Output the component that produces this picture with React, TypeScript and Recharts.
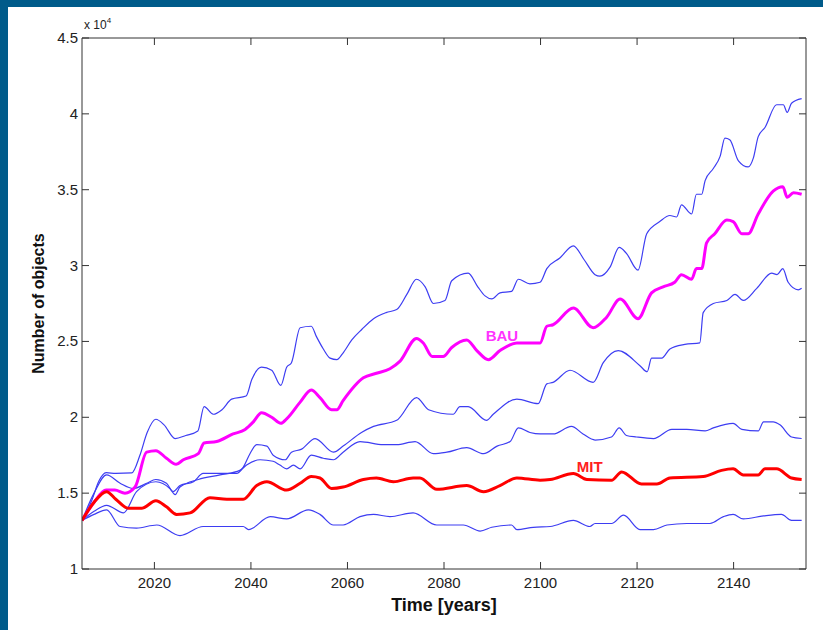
import React from 'react';
import { LineChart, Line, XAxis, YAxis, ReferenceDot, Label } from 'recharts';

type Pt = [number, number];

// values in units of 10^4 objects
const upperRun: Pt[] = [
  [2005, 1.32], [2007, 1.45], [2008.5, 1.58], [2010, 1.635], [2012, 1.63], [2015.3, 1.633],
  [2017, 1.75], [2018.5, 1.9], [2020.3, 1.987], [2022, 1.95], [2024.3, 1.86], [2026.5, 1.88],
  [2029, 1.91], [2030.3, 2.07], [2032.2, 2.02], [2034, 2.05], [2036, 2.12], [2039, 2.14],
  [2040.2, 2.25], [2042.2, 2.33], [2044.3, 2.31], [2046.2, 2.21], [2047.4, 2.33], [2048.4, 2.36],
  [2050.2, 2.59], [2052.5, 2.6], [2053.6, 2.53], [2055, 2.45], [2056.4, 2.39], [2057.8, 2.38],
  [2059, 2.42], [2060.9, 2.51], [2063, 2.58], [2065.4, 2.65], [2068, 2.69], [2070.2, 2.71],
  [2072.3, 2.81], [2074.3, 2.91], [2076.1, 2.86], [2077.8, 2.75], [2080.2, 2.77], [2081.6, 2.9],
  [2085, 2.95], [2087, 2.86], [2088.5, 2.8], [2089.9, 2.78], [2091.6, 2.82], [2094, 2.83],
  [2095.4, 2.91], [2097.8, 2.88], [2099.9, 2.89], [2101.3, 2.98], [2104, 3.05], [2106.8, 3.13],
  [2109, 3.04], [2111.3, 2.94], [2112.3, 2.93], [2114.4, 2.99], [2116.3, 3.12], [2117.8, 3.08],
  [2120.2, 2.97], [2122, 3.21], [2124.7, 3.29], [2126.8, 3.33], [2128.2, 3.32], [2129.2, 3.4],
  [2131.3, 3.34], [2132.3, 3.47], [2133.4, 3.47], [2134.1, 3.56], [2135.8, 3.64], [2137.2, 3.72],
  [2138.2, 3.84], [2139.2, 3.83], [2141, 3.69], [2143, 3.65], [2144.1, 3.71], [2145.1, 3.85],
  [2146.5, 3.91], [2148.9, 4.06], [2150.3, 4.06], [2151.1, 4.01], [2152, 4.07], [2154.1, 4.1],
];

const bau: Pt[] = [
  [2005, 1.32], [2007.5, 1.44], [2010, 1.52], [2011.8, 1.52], [2013.9, 1.5], [2016, 1.54],
  [2018.4, 1.77], [2020.3, 1.78], [2022.5, 1.73], [2024.5, 1.69], [2026, 1.72], [2029.1, 1.76],
  [2030.3, 1.83], [2032.9, 1.84], [2036.3, 1.89], [2038.8, 1.92], [2040.5, 1.97], [2042.2, 2.03],
  [2044.3, 2.0], [2046.2, 1.96], [2047.4, 1.99], [2050.2, 2.1], [2052.5, 2.18], [2054.3, 2.13],
  [2056.7, 2.05], [2057.8, 2.05], [2059.1, 2.11], [2063.3, 2.26], [2066, 2.29], [2068.8, 2.32],
  [2070.9, 2.37], [2074.3, 2.52], [2075.7, 2.49], [2077.6, 2.4], [2079.8, 2.4], [2081.6, 2.46],
  [2084.7, 2.51], [2086.8, 2.44], [2089.2, 2.38], [2091.6, 2.44], [2095.1, 2.49], [2097.8, 2.49],
  [2099.9, 2.49], [2101.3, 2.6], [2102.6, 2.61], [2106.8, 2.72], [2110.9, 2.59], [2113.7, 2.66],
  [2116.5, 2.78], [2120.2, 2.65], [2123, 2.82], [2125.4, 2.86], [2127.8, 2.89], [2129.2, 2.94],
  [2131.3, 2.91], [2132.3, 2.98], [2133.4, 2.98], [2134.4, 3.15], [2136.1, 3.21], [2138.6, 3.3],
  [2139.9, 3.29], [2141.7, 3.21], [2143, 3.21], [2145.1, 3.34], [2148.2, 3.49], [2150.2, 3.52],
  [2151.1, 3.45], [2152.4, 3.48], [2154.1, 3.47],
];

const midUpperRun: Pt[] = [
  [2005, 1.32], [2007.5, 1.5], [2010.1, 1.62], [2012.9, 1.565], [2015.6, 1.53], [2018.4, 1.565],
  [2020.3, 1.59], [2022.5, 1.565], [2023.9, 1.51], [2025.3, 1.55], [2028.1, 1.575], [2030.1, 1.63],
  [2033.6, 1.63], [2037, 1.63], [2038.4, 1.67], [2039.8, 1.76], [2041.2, 1.82], [2043.3, 1.81],
  [2044.6, 1.75], [2047.1, 1.72], [2048.4, 1.77], [2050.5, 1.79], [2053.3, 1.86], [2057.1, 1.77],
  [2059.1, 1.81], [2062.9, 1.9], [2065.4, 1.94], [2070.2, 1.98], [2074.3, 2.13], [2076.8, 2.05],
  [2081.9, 2.02], [2083.3, 2.07], [2085, 2.07], [2088.8, 1.98], [2090.2, 2.02], [2095.1, 2.12],
  [2099.5, 2.09], [2101.3, 2.22], [2102.6, 2.23], [2106.1, 2.31], [2110.9, 2.23], [2113, 2.36],
  [2116.1, 2.44], [2120.6, 2.34], [2122.1, 2.3], [2123, 2.39], [2125.1, 2.39], [2126.8, 2.45],
  [2129.9, 2.48], [2133, 2.49], [2133.7, 2.69], [2135.8, 2.75], [2138.6, 2.77], [2140.3, 2.81],
  [2142, 2.77], [2144.8, 2.85], [2147.9, 2.95], [2149, 2.94], [2150.2, 2.98], [2151.3, 2.89],
  [2153.4, 2.84], [2154.1, 2.85],
];

const midLowerRun: Pt[] = [
  [2005, 1.32], [2007.5, 1.38], [2010.1, 1.42], [2013.6, 1.37], [2016.3, 1.51], [2020.3, 1.575],
  [2023.2, 1.53], [2024.3, 1.49], [2025.3, 1.54], [2029.1, 1.59], [2033.6, 1.62], [2037.7, 1.65],
  [2039.1, 1.685], [2041.9, 1.72], [2044.6, 1.71], [2046, 1.685], [2047.4, 1.66], [2048.8, 1.685],
  [2050.2, 1.66], [2052.5, 1.75], [2055, 1.73], [2057.1, 1.72], [2059.1, 1.77], [2062.6, 1.84],
  [2067.4, 1.82], [2070.2, 1.82], [2074, 1.84], [2077.8, 1.76], [2080.6, 1.77], [2084.7, 1.8],
  [2088.2, 1.76], [2091, 1.81], [2093.7, 1.84], [2095.4, 1.93], [2097.8, 1.9], [2099.9, 1.89],
  [2102.6, 1.89], [2106.4, 1.94], [2108.8, 1.89], [2111.3, 1.85], [2114.7, 1.87], [2116.3, 1.93],
  [2117.8, 1.88], [2119.9, 1.87], [2123.4, 1.86], [2127.2, 1.92], [2130.3, 1.92], [2134.1, 1.91],
  [2135.8, 1.93], [2139.9, 1.96], [2141.7, 1.92], [2145.1, 1.91], [2146.2, 1.97], [2148.2, 1.97],
  [2149.6, 1.95], [2152, 1.87], [2154.1, 1.86],
];

const lowerRun: Pt[] = [
  [2005, 1.32], [2007.5, 1.36], [2010.1, 1.39], [2012.9, 1.28], [2016.3, 1.27], [2020.5, 1.29],
  [2025.3, 1.22], [2030.1, 1.28], [2038.4, 1.28], [2039.5, 1.26], [2044, 1.345], [2047.4, 1.33],
  [2051.9, 1.39], [2054.3, 1.36], [2057.1, 1.29], [2059.1, 1.29], [2062.6, 1.345], [2065.4, 1.36],
  [2068.8, 1.345], [2073.6, 1.37], [2078.5, 1.29], [2084, 1.29], [2087.5, 1.25], [2089.9, 1.275],
  [2094, 1.29], [2095.1, 1.26], [2098.5, 1.275], [2102, 1.28], [2106.8, 1.32], [2110.2, 1.28],
  [2111.3, 1.3], [2114.7, 1.3], [2117.2, 1.355], [2120.6, 1.26], [2123.4, 1.26], [2126.2, 1.29],
  [2130.3, 1.3], [2135.1, 1.3], [2137.9, 1.345], [2139.9, 1.36], [2142, 1.33], [2146.2, 1.35],
  [2149.9, 1.36], [2152, 1.32], [2154.1, 1.32],
];

const mit: Pt[] = [
  [2005, 1.32], [2007.5, 1.44], [2010.1, 1.51], [2012, 1.46], [2014.6, 1.4], [2017.4, 1.4],
  [2020.3, 1.45], [2022.5, 1.41], [2024.6, 1.36], [2027.4, 1.37], [2031.5, 1.47], [2035, 1.46],
  [2038.4, 1.46], [2041.2, 1.55], [2043.3, 1.575], [2047.4, 1.52], [2050.2, 1.565], [2052.5, 1.61],
  [2054.3, 1.6], [2056.7, 1.53], [2059.1, 1.54], [2063.3, 1.59], [2066, 1.6], [2069.5, 1.575],
  [2073.6, 1.6], [2075, 1.6], [2078.5, 1.525], [2084.7, 1.55], [2088.2, 1.51], [2091.6, 1.55],
  [2095.1, 1.6], [2099.9, 1.585], [2102, 1.59], [2106.8, 1.63], [2109.6, 1.59], [2114.7, 1.585],
  [2116.8, 1.64], [2120.9, 1.56], [2124.1, 1.56], [2126.8, 1.6], [2133.7, 1.61], [2137.5, 1.65],
  [2139.9, 1.66], [2142, 1.62], [2145.1, 1.62], [2146.5, 1.66], [2148.9, 1.66], [2152, 1.6],
  [2154.1, 1.59],
];

const xTicks = [2020, 2040, 2060, 2080, 2100, 2120, 2140];
const yTicks = [1, 1.5, 2, 2.5, 3, 3.5, 4, 4.5];

const blueRuns = [upperRun, midUpperRun, midLowerRun, lowerRun];

const toRows = (pts: Pt[]) => pts.map(([year, v]) => ({ year, v }));

const FONT = '"Liberation Sans", Arial, Helvetica, sans-serif';
const AXIS = '#333';
const TICK = 7;

const BottomTick = ({ x, y, payload }: any) => (
  <g>
    <line x1={x} y1={y} x2={x} y2={y - TICK} stroke={AXIS} />
    <text x={x} y={y + 19} textAnchor="middle" fontSize={15} fontFamily={FONT} fill="#222">
      {payload.value}
    </text>
  </g>
);

const TopTick = ({ x, y }: any) => <line x1={x} y1={y} x2={x} y2={y + TICK} stroke={AXIS} />;

const LeftTick = ({ x, y, payload }: any) => (
  <g>
    <line x1={x} y1={y} x2={x + TICK} y2={y} stroke={AXIS} />
    <text x={x - 4} y={y + 5} textAnchor="end" fontSize={15} fontFamily={FONT} fill="#222">
      {String(payload.value)}
    </text>
  </g>
);

const RightTick = ({ x, y }: any) => <line x1={x} y1={y} x2={x - TICK} y2={y} stroke={AXIS} />;

const App = () => {
  return (
    <div style={{ position: 'absolute', left: 0, top: 0, width: 823, height: 630, background: '#fff' }}>
      <LineChart width={823} height={630} margin={{ top: 37, right: 16, bottom: 31, left: 22 }}>
        <XAxis
          xAxisId="b"
          type="number"
          dataKey="year"
          domain={[2005, 2155]}
          ticks={xTicks}
          allowDataOverflow
          height={30}
          stroke={AXIS}
          tickLine={false}
          tickSize={0}
          tickMargin={0}
          tick={<BottomTick />}
        >
          <Label
            content={({ viewBox }: any) => (
              <text
                x={viewBox.x + viewBox.width / 2}
                y={viewBox.y + 42}
                textAnchor="middle"
                fontSize={18}
                fontWeight="bold"
                fontFamily={FONT}
                fill="#111"
              >
                Time [years]
              </text>
            )}
          />
        </XAxis>
        <XAxis
          xAxisId="t"
          orientation="top"
          type="number"
          dataKey="year"
          domain={[2005, 2155]}
          ticks={xTicks}
          allowDataOverflow
          height={1}
          stroke={AXIS}
          tickLine={false}
          tickSize={0}
          tickMargin={0}
          tick={<TopTick />}
        >
          <Label
            content={({ viewBox }: any) => (
              <text x={viewBox.x + 2} y={viewBox.y - 8} fontSize={12} fontFamily={FONT} fill="#222">
                x 10
                <tspan dy={-6} fontSize={8}>
                  4
                </tspan>
              </text>
            )}
          />
        </XAxis>
        <YAxis
          yAxisId="l"
          type="number"
          domain={[1, 4.5]}
          ticks={yTicks}
          allowDataOverflow
          width={60}
          stroke={AXIS}
          tickLine={false}
          tickSize={0}
          tickMargin={0}
          tick={<LeftTick />}
        >
          <Label
            content={({ viewBox }: any) => {
              const cx = viewBox.x + 22;
              const cy = viewBox.y + viewBox.height / 2;
              return (
                <text
                  x={cx}
                  y={cy}
                  transform={`rotate(-90 ${cx} ${cy})`}
                  textAnchor="middle"
                  fontSize={16}
                  fontWeight="bold"
                  fontFamily={FONT}
                  fill="#111"
                >
                  Number of objects
                </text>
              );
            }}
          />
        </YAxis>
        <YAxis
          yAxisId="r"
          orientation="right"
          type="number"
          domain={[1, 4.5]}
          ticks={yTicks}
          allowDataOverflow
          width={1}
          stroke={AXIS}
          tickLine={false}
          tickSize={0}
          tickMargin={0}
          tick={<RightTick />}
        />

        {blueRuns.map((run, i) => (
          <Line
            key={`blue-${i}`}
            xAxisId="b"
            yAxisId="l"
            data={toRows(run)}
            dataKey="v"
            type="monotone"
            stroke="#3d3df2"
            strokeWidth={1.2}
            dot={false}
            activeDot={false}
            isAnimationActive={false}
          />
        ))}
        <Line
          xAxisId="b"
          yAxisId="l"
          data={toRows(bau)}
          dataKey="v"
          type="monotone"
          stroke="#ff00ff"
          strokeWidth={3}
          dot={false}
          activeDot={false}
          isAnimationActive={false}
        />
        <Line
          xAxisId="b"
          yAxisId="l"
          data={toRows(mit)}
          dataKey="v"
          type="monotone"
          stroke="#ff0000"
          strokeWidth={3}
          dot={false}
          activeDot={false}
          isAnimationActive={false}
        />

        <ReferenceDot
          xAxisId="b"
          yAxisId="l"
          x={2092}
          y={2.54}
          r={0}
          fill="none"
          stroke="none"
          label={{ value: 'BAU', position: 'center', fill: '#ff33ff', fontSize: 15, fontWeight: 'bold', fontFamily: FONT }}
        />
        <ReferenceDot
          xAxisId="b"
          yAxisId="l"
          x={2110.2}
          y={1.672}
          r={0}
          fill="none"
          stroke="none"
          label={{ value: 'MIT', position: 'center', fill: '#ff2020', fontSize: 15, fontWeight: 'bold', fontFamily: FONT }}
        />
      </LineChart>

      <div style={{ position: 'absolute', left: 0, top: 0, width: 823, height: 7, background: '#005b8a' }} />
      <div style={{ position: 'absolute', left: 0, top: 0, width: 8, height: 630, background: '#005b8a' }} />
    </div>
  );
};

export default App;
